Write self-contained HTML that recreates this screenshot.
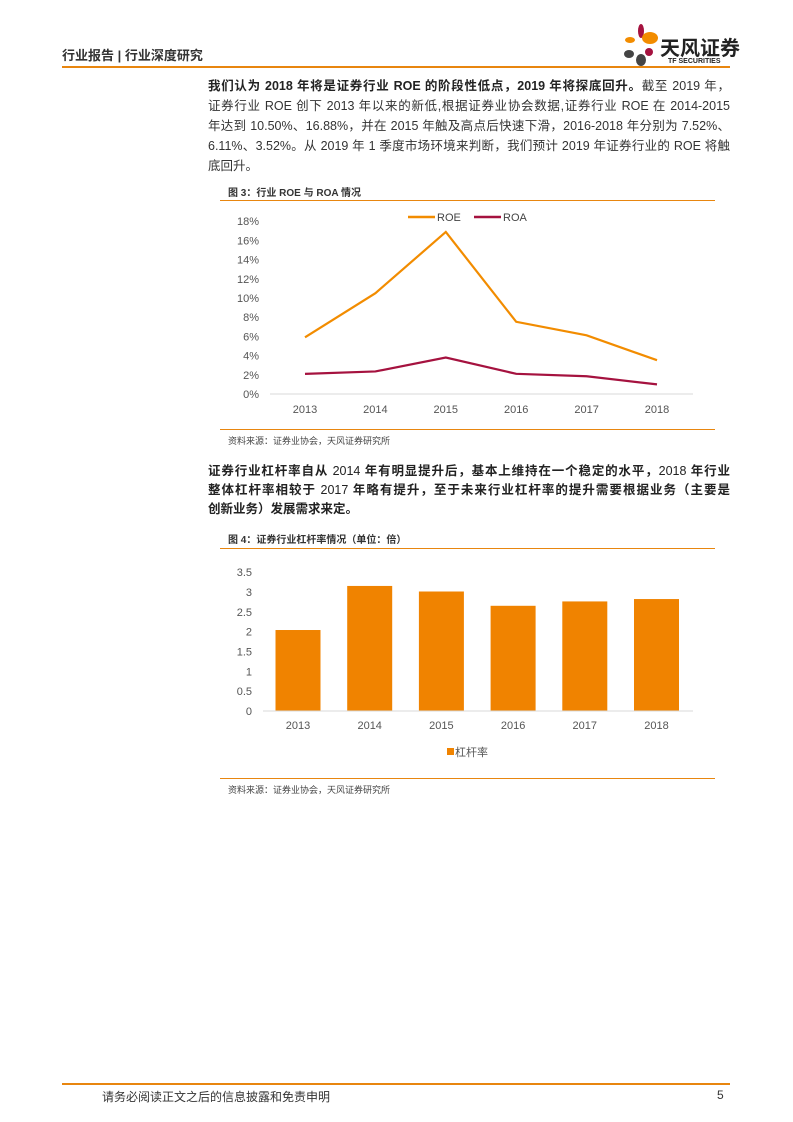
<!DOCTYPE html>
<html><head><meta charset="utf-8">
<style>
body{margin:0;width:793px;height:1122px;background:#fff;position:relative;font-family:"Liberation Sans","Noto Sans CJK SC",sans-serif;color:#333;overflow:hidden}
.abs{position:absolute}
.p{font-size:12.5px;color:#333;width:522px}
.p div{white-space:nowrap;text-align:justify;text-align-last:justify}
.p div.last{text-align-last:left}
b{color:#222}
</style></head><body>
<div class="abs" style="left:62px;top:45px;font-size:13px;font-weight:bold;color:#333">行业报告 | 行业深度研究</div>
<svg class="abs" style="left:620px;top:22px" width="40" height="46">
<ellipse cx="21" cy="9" rx="3" ry="7" fill="#a5123f"/><ellipse cx="30" cy="16" rx="8" ry="6" fill="#f28c00"/><ellipse cx="10" cy="18" rx="5" ry="3" fill="#f28c00"/><ellipse cx="9" cy="32" rx="5" ry="4" fill="#444"/><ellipse cx="21" cy="38" rx="5" ry="6" fill="#444"/><ellipse cx="29" cy="30" rx="4" ry="4" fill="#a5123f"/>
</svg>
<div class="abs" style="left:660px;top:32px;font-size:20px;font-weight:bold;color:#222">天风证券</div>
<div class="abs" style="left:668px;top:58px;font-size:7px;font-weight:bold;color:#222">TF SECURITIES</div>
<div class="abs" style="left:62px;top:66px;width:668px;height:2px;background:#e8860f"></div>

<div class="abs p" style="left:208px;top:76px;line-height:20px">
<div><b>我们认为 2018 年将是证券行业 ROE 的阶段性低点，2019 年将探底回升。</b>截至 2019 年，</div>
<div>证券行业 ROE 创下 2013 年以来的新低,根据证券业协会数据,证券行业 ROE 在 2014-2015</div>
<div>年达到 10.50%、16.88%，并在 2015 年触及高点后快速下滑，2016-2018 年分别为 7.52%、</div>
<div>6.11%、3.52%。从 2019 年 1 季度市场环境来判断，我们预计 2019 年证券行业的 ROE 将触</div>
<div class="last">底回升。</div>
</div>

<div class="abs" style="left:228px;top:184px;font-size:10px;font-weight:bold;color:#333">图 3：行业 ROE 与 ROA 情况</div>
<div class="abs" style="left:220px;top:200px;width:495px;height:1px;background:#e8860f"></div>
<svg class="abs" id="c1" style="left:0;top:0" width="793" height="430"></svg>
<div class="abs" style="left:220px;top:429px;width:495px;height:1px;background:#e8860f"></div>
<div class="abs" style="left:228px;top:434px;font-size:9px;color:#444">资料来源：证券业协会，天风证券研究所</div>

<div class="abs p" style="left:208px;top:462px;line-height:19px;font-weight:bold;color:#222">
<div>证券行业杠杆率自从 <span style="font-weight:normal">2014</span> 年有明显提升后，基本上维持在一个稳定的水平，<span style="font-weight:normal">2018</span> 年行业</div>
<div>整体杠杆率相较于 <span style="font-weight:normal">2017</span> 年略有提升，至于未来行业杠杆率的提升需要根据业务（主要是</div>
<div class="last">创新业务）发展需求来定。</div>
</div>

<div class="abs" style="left:228px;top:531px;font-size:10px;font-weight:bold;color:#333">图 4：证券行业杠杆率情况（单位：倍）</div>
<div class="abs" style="left:220px;top:548px;width:495px;height:1px;background:#e8860f"></div>
<svg class="abs" id="c2" style="left:0;top:0" width="793" height="780"></svg>
<div class="abs" style="left:220px;top:778px;width:495px;height:1px;background:#e8860f"></div>
<div class="abs" style="left:228px;top:783px;font-size:9px;color:#444">资料来源：证券业协会，天风证券研究所</div>

<div class="abs" style="left:62px;top:1083px;width:668px;height:2px;background:#e8860f"></div>
<div class="abs" style="left:102px;top:1088px;font-size:12px;color:#333">请务必阅读正文之后的信息披露和免责申明</div>
<div class="abs" style="left:717px;top:1088px;font-size:12px;color:#333">5</div>

<script>
const years=["2013","2014","2015","2016","2017","2018"];
const roe=[5.9,10.5,16.88,7.52,6.11,3.52];
const roa=[2.1,2.35,3.8,2.1,1.85,1.0];
const pctTicks=[0,2,4,6,8,10,12,14,16,18];
const leverage=[2.04,3.15,3.01,2.65,2.76,2.82];
const levTicks=[0,0.5,1,1.5,2,2.5,3,3.5];
const NS="http://www.w3.org/2000/svg";
function mk(svg,tag,attrs,text){const e=document.createElementNS(NS,tag);for(const k in attrs)e.setAttribute(k,attrs[k]);if(text!==undefined)e.textContent=text;svg.appendChild(e);return e;}
(function(){
const svg=document.getElementById('c1');
const x=i=>305+i*70.4, y=v=>394-v*9.6;
const ax=mk(svg,'line',{x1:270,x2:693,y1:394,y2:394,stroke:'#d9d9d9','stroke-width':1});

pctTicks.forEach(t=>{const e=mk(svg,'text',{x:259,y:y(t)+4,'text-anchor':'end','font-size':11,fill:'#555','font-family':'Liberation Sans'},t+'%');
});
years.forEach((c,i)=>{const e=mk(svg,'text',{x:x(i),y:413,'text-anchor':'middle','font-size':11,fill:'#555','font-family':'Liberation Sans'},c);
});
const l1=mk(svg,'polyline',{points:roe.map((v,i)=>x(i)+','+y(v)).join(' '),fill:'none',stroke:'#f28c00','stroke-width':2.2});

const l2=mk(svg,'polyline',{points:roa.map((v,i)=>x(i)+','+y(v)).join(' '),fill:'none',stroke:'#a5123f','stroke-width':2.2});

const g1=mk(svg,'line',{x1:408,x2:435,y1:217,y2:217,stroke:'#f28c00','stroke-width':2.5});

const t1=mk(svg,'text',{x:437,y:221,'font-size':11,fill:'#444','font-family':'Liberation Sans'},'ROE');

const g2=mk(svg,'line',{x1:474,x2:501,y1:217,y2:217,stroke:'#a5123f','stroke-width':2.5});

const t2=mk(svg,'text',{x:503,y:221,'font-size':11,fill:'#444','font-family':'Liberation Sans'},'ROA');

})();
(function(){
const svg=document.getElementById('c2');
const x=i=>298+i*71.7, y=v=>711-v*39.7;
levTicks.forEach(t=>{const e=mk(svg,'text',{x:252,y:y(t)+4,'text-anchor':'end','font-size':11,fill:'#555','font-family':'Liberation Sans'},String(t));
});
leverage.forEach((v,i)=>{const r=mk(svg,'rect',{x:x(i)-22.5,y:y(v),width:45,height:v*39.7,fill:'#f08300'});
});
const ax=mk(svg,'line',{x1:263,x2:693,y1:711,y2:711,stroke:'#d9d9d9','stroke-width':1});

years.forEach((c,i)=>{const e=mk(svg,'text',{x:x(i),y:729,'text-anchor':'middle','font-size':11,fill:'#555','font-family':'Liberation Sans'},c);
});
const s=mk(svg,'rect',{x:447,y:748,width:7,height:7,fill:'#f08300'});

const t=mk(svg,'text',{x:455,y:756,'font-size':11,fill:'#555','font-family':'Liberation Sans, Noto Sans CJK SC, sans-serif'},'杠杆率');

})();
</script>
</body></html>
